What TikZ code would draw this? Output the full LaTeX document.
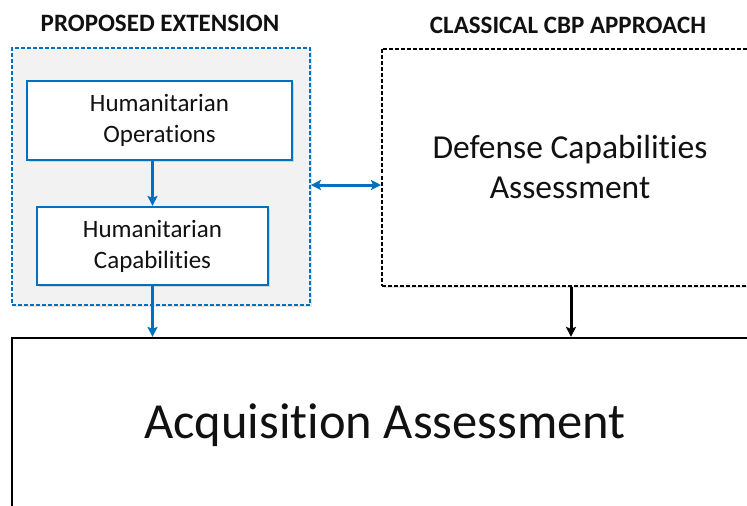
\documentclass[tikz,border=0pt]{standalone}
\usepackage{fontspec}
\setmainfont[Ligatures=NoCommon]{Carlito}
\usetikzlibrary{arrows.meta,shadows,calc}
\definecolor{hblue}{HTML}{0070C0}
\definecolor{panelgray}{HTML}{F2F2F2}
\definecolor{ink}{HTML}{111111}
\tikzset{
  tip/.tip={Stealth[length=10pt,width=10pt,inset=2pt]},
  hbox/.style={draw=hblue, line width=2.2pt, fill=white, minimum width=#1,
    drop shadow={shadow xshift=2pt, shadow yshift=-2pt, opacity=0.25},
    align=center, text=ink, font=\fontsize{25}{31}\selectfont},
  panel/.style={draw=hblue, line width=1.8pt, dash pattern=on 4pt off 2pt, fill=panelgray,
    drop shadow={shadow xshift=2pt, shadow yshift=-2pt, opacity=0.2}},
  blackpanel/.style={draw=black, line width=2pt, dash pattern=on 4pt off 2pt, fill=white,
    drop shadow={shadow xshift=2pt, shadow yshift=-2pt, opacity=0.2},
    align=center, text=ink, font=\fontsize{33.5}{40}\selectfont},
  headline/.style={font=\bfseries\fontsize{25}{30}\selectfont, text=ink},
  blueflow/.style={draw=hblue, line width=3pt, -tip},
  blueboth/.style={draw=hblue, line width=3pt, tip-tip},
  blackflow/.style={draw=black, line width=3pt, -tip}
}
\begin{document}
\begin{tikzpicture}[x=1pt,y=-1pt]
\useasboundingbox (0,0) rectangle (747,506);
\clip (0,0) rectangle (747,506);
\fill[white] (0,0) rectangle (747,506);

% headings
\node[headline] (th) at (160,23) {PROPOSED EXTENSION};
\node[headline] (tc) at (568,25) {CLASSICAL CBP APPROACH};

% proposed extension panel with its two steps
\node[panel, minimum width=298pt, minimum height=257pt] (ext) at (161,176.5) {};
\node[hbox=265pt, minimum height=79pt] (ops) at (159.5,120.5) {Humanitarian\\Operations};
\node[hbox=231pt, minimum height=78pt] (cap) at (152.5,246) {Humanitarian\\Capabilities};

% classical approach
\node[blackpanel, minimum width=376pt, minimum height=237pt] (def) at (570,167)
  {Defense Capabilities\\Assessment};

% acquisition
\node[draw=black, line width=2.2pt, fill=white, minimum width=746pt, minimum height=174pt,
  text=ink, font=\fontsize{50.5}{60}\selectfont] (acq) at (385,425) {Acquisition Assessment};

% connectors
\draw[blueflow] (cap.north |- ops.south) -- (cap.north);
\draw[blueflow] (cap.south) -- (cap.south |- acq.north);
\draw[blackflow] ([xshift=1pt]def.south) -- ([xshift=1pt]def.south |- acq.north);
\draw[blueboth] ([yshift=-8.5pt]ext.east) -- ([yshift=-8.5pt]ext.east -| def.west);
\end{tikzpicture}
\end{document}
